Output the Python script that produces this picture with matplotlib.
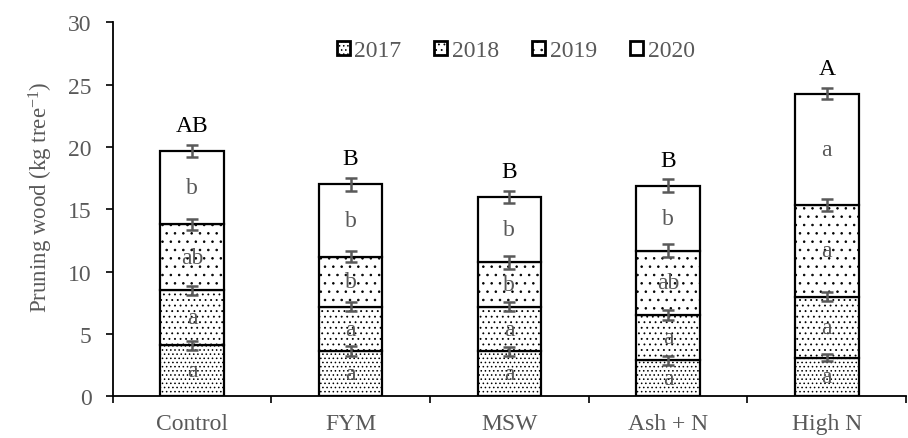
import matplotlib
matplotlib.use("Agg")
import matplotlib.pyplot as plt
import numpy as np

plt.rcParams['font.family'] = ['Liberation Serif', 'DejaVu Serif']
plt.rcParams['mathtext.fontset'] = 'custom'
plt.rcParams['mathtext.rm'] = 'Liberation Serif'
plt.rcParams['mathtext.it'] = 'Liberation Serif:italic'
plt.rcParams['hatch.linewidth'] = 0.6

categories = ["Control", "FYM", "MSW", "Ash + N", "High N"]
years = ["2017", "2018", "2019", "2020"]
v2017 = [4.1, 3.6, 3.6, 2.9, 3.1]
v2018 = [4.4, 3.6, 3.6, 3.6, 4.9]
v2019 = [5.3, 4.0, 3.55, 5.2, 7.35]
v2020 = [5.9, 5.8, 5.25, 5.2, 8.95]
e2017 = [0.35, 0.4, 0.35, 0.35, 0.3]
e2018 = [0.35, 0.35, 0.35, 0.4, 0.35]
e2019 = [0.45, 0.45, 0.5, 0.5, 0.45]
e2020 = [0.5, 0.55, 0.5, 0.5, 0.45]
l2017 = ["a", "a", "a", "a", "a"]
l2018 = ["a", "a", "a", "a", "a"]
l2019 = ["ab", "b", "b", "ab", "a"]
l2020 = ["b", "b", "b", "b", "a"]
top_letters = ["AB", "B", "B", "B", "A"]

values = [v2017, v2018, v2019, v2020]
errors = [e2017, e2018, e2019, e2020]
letters = [l2017, l2018, l2019, l2020]
hatches = ['....', '...', '..', '']

grey = '#595959'
fig = plt.figure(figsize=(9.08, 4.39), dpi=100)
ax = fig.add_axes([0.124, 0.095, 0.874, 0.8515])
x = np.arange(len(categories))
bottom = np.zeros(len(categories))
for i, yr in enumerate(years):
    vals = np.array(values[i])
    ax.bar(x, vals, 0.4, bottom=bottom, color='white', edgecolor='black',
           linewidth=1.6, hatch=hatches[i], label=yr, zorder=2)
    tops = bottom + vals
    ax.errorbar(x, tops, yerr=errors[i], fmt='none', ecolor=grey,
                elinewidth=1.8, capsize=4.5, capthick=1.8, zorder=3)
    for xi, b, v, t in zip(x, bottom, vals, letters[i]):
        ax.text(xi, b + v / 2, t, ha='center', va='center', fontsize=17,
                color=grey, zorder=4)
    bottom = tops

for xi, b, t, e in zip(x, bottom, top_letters, e2020):
    ax.text(xi, b + e + 0.7, t, ha='center', va='bottom', fontsize=17,
            color='black')

ax.set_xlim(-0.5, 4.5)
ax.set_ylim(0, 30)
ax.set_yticks(np.arange(0, 31, 5))
ax.set_xticks(x)
ax.set_xticklabels(categories)
ax.set_xticks(np.arange(-0.5, 4.6, 1), minor=True)
ax.tick_params(axis='x', which='major', length=0, labelsize=17,
               labelcolor=grey, pad=12)
ax.tick_params(axis='x', which='minor', length=5, width=1.2, direction='out')
ax.tick_params(axis='y', length=5, width=1.2, direction='out', labelsize=17,
               labelcolor=grey, pad=10)
for s in ['top', 'right']:
    ax.spines[s].set_visible(False)
for s in ['left', 'bottom']:
    ax.spines[s].set_linewidth(1.3)
ax.set_ylabel('Pruning wood (kg tree$^{-1}$)', fontsize=16.5, color=grey)
ax.yaxis.set_label_coords(-0.072, 0.535)

leg = ax.legend(loc='center', bbox_to_anchor=(0.508, 0.925), ncol=4,
                frameon=False, fontsize=17, handlelength=0.55,
                handleheight=0.55, handletextpad=0.2, columnspacing=1.4,
                borderpad=0.2)
for t in leg.get_texts():
    t.set_color(grey)
for h in leg.legend_handles:
    h.set_linewidth(2.0)

fig.savefig('out.png', dpi=100)
